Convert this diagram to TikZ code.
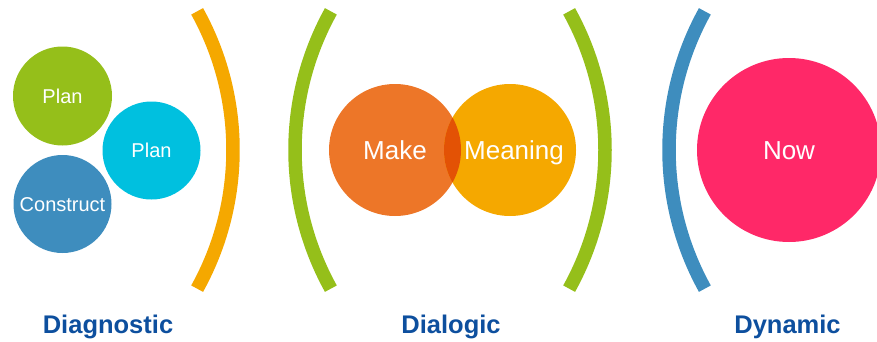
\documentclass[tikz,border=0pt]{standalone}
\usepackage{fontspec}
\setmainfont{Liberation Sans}
\usetikzlibrary{positioning}

\definecolor{dgreen}{HTML}{95BF1A}
\definecolor{dcyan}{HTML}{00C0DF}
\definecolor{dblue}{HTML}{3E8DBE}
\definecolor{dorange}{HTML}{F5A800}
\definecolor{dmake}{HTML}{ED7628}
\definecolor{doverlap}{HTML}{E35205}
\definecolor{dpink}{HTML}{FF2868}
\definecolor{dlabel}{HTML}{0D4F9E}

\begin{document}
\begin{tikzpicture}[x=1pt,y=1pt]
  \useasboundingbox (0,0) rectangle (877,341);

       \tikzset{bubble/.style = {circle, inner sep=0pt, text=white, text height=14.3pt, text depth=0pt, font=\fontsize{20}{24}\selectfont}, }
       \tikzset{bigbubble/.style = {bubble, text height=18.6pt, font=\fontsize{26}{30}\selectfont}, }
       \tikzset{bracket/.style = {line width=13.5pt, line cap=butt}, }
       \tikzset{heading/.style = {anchor=base, text=dlabel, font=\fontsize{25.5}{30}\selectfont\bfseries}, }

       % diagnostic
       \node[bubble, fill=dgreen, minimum size=99pt] (plan1) at (62.5,245) {Plan};
       \node[bubble, fill=dcyan, minimum size=98pt] (plan2) at (151.5,190.5) {Plan};
       \node[bubble, fill=dblue, minimum size=98pt] (construct) at (62.5,137) {Construct};
       \draw[bracket, dorange] (-53,191) ++(-29:286pt) arc[start angle=-29, end angle=29, radius=286pt];

       % dialogic
       \draw[bracket, dgreen] (581,191) ++(151:286pt) arc[start angle=151, end angle=209, radius=286pt];
       \node[bigbubble, fill=dmake, minimum size=132pt] (make) at (395,191) {Make};
       \node[bigbubble, fill=dorange, minimum size=132pt] (meaning) at (510,191) {\hspace*{8pt}Meaning};
       \begin{scope}
         \clip (make.center) circle (66pt);
         \fill[doverlap] (meaning.center) circle (66pt);
       \end{scope}
       \draw[bracket, dgreen] (319,191) ++(-29:286pt) arc[start angle=-29, end angle=29, radius=286pt];

       % dynamic
       \draw[bracket, dblue] (955,191) ++(151:286pt) arc[start angle=151, end angle=209, radius=286pt];
       \node[bigbubble, fill=dpink, minimum size=184pt] (now) at (789,191) {Now};

       \node[heading] (diag) at (108,8) {Diagnostic};
       \node[heading] (dial) at (451,8) {Dialogic};
       \node[heading] (dyn) at (787.5,8) {Dynamic};

\end{tikzpicture}
\end{document}
